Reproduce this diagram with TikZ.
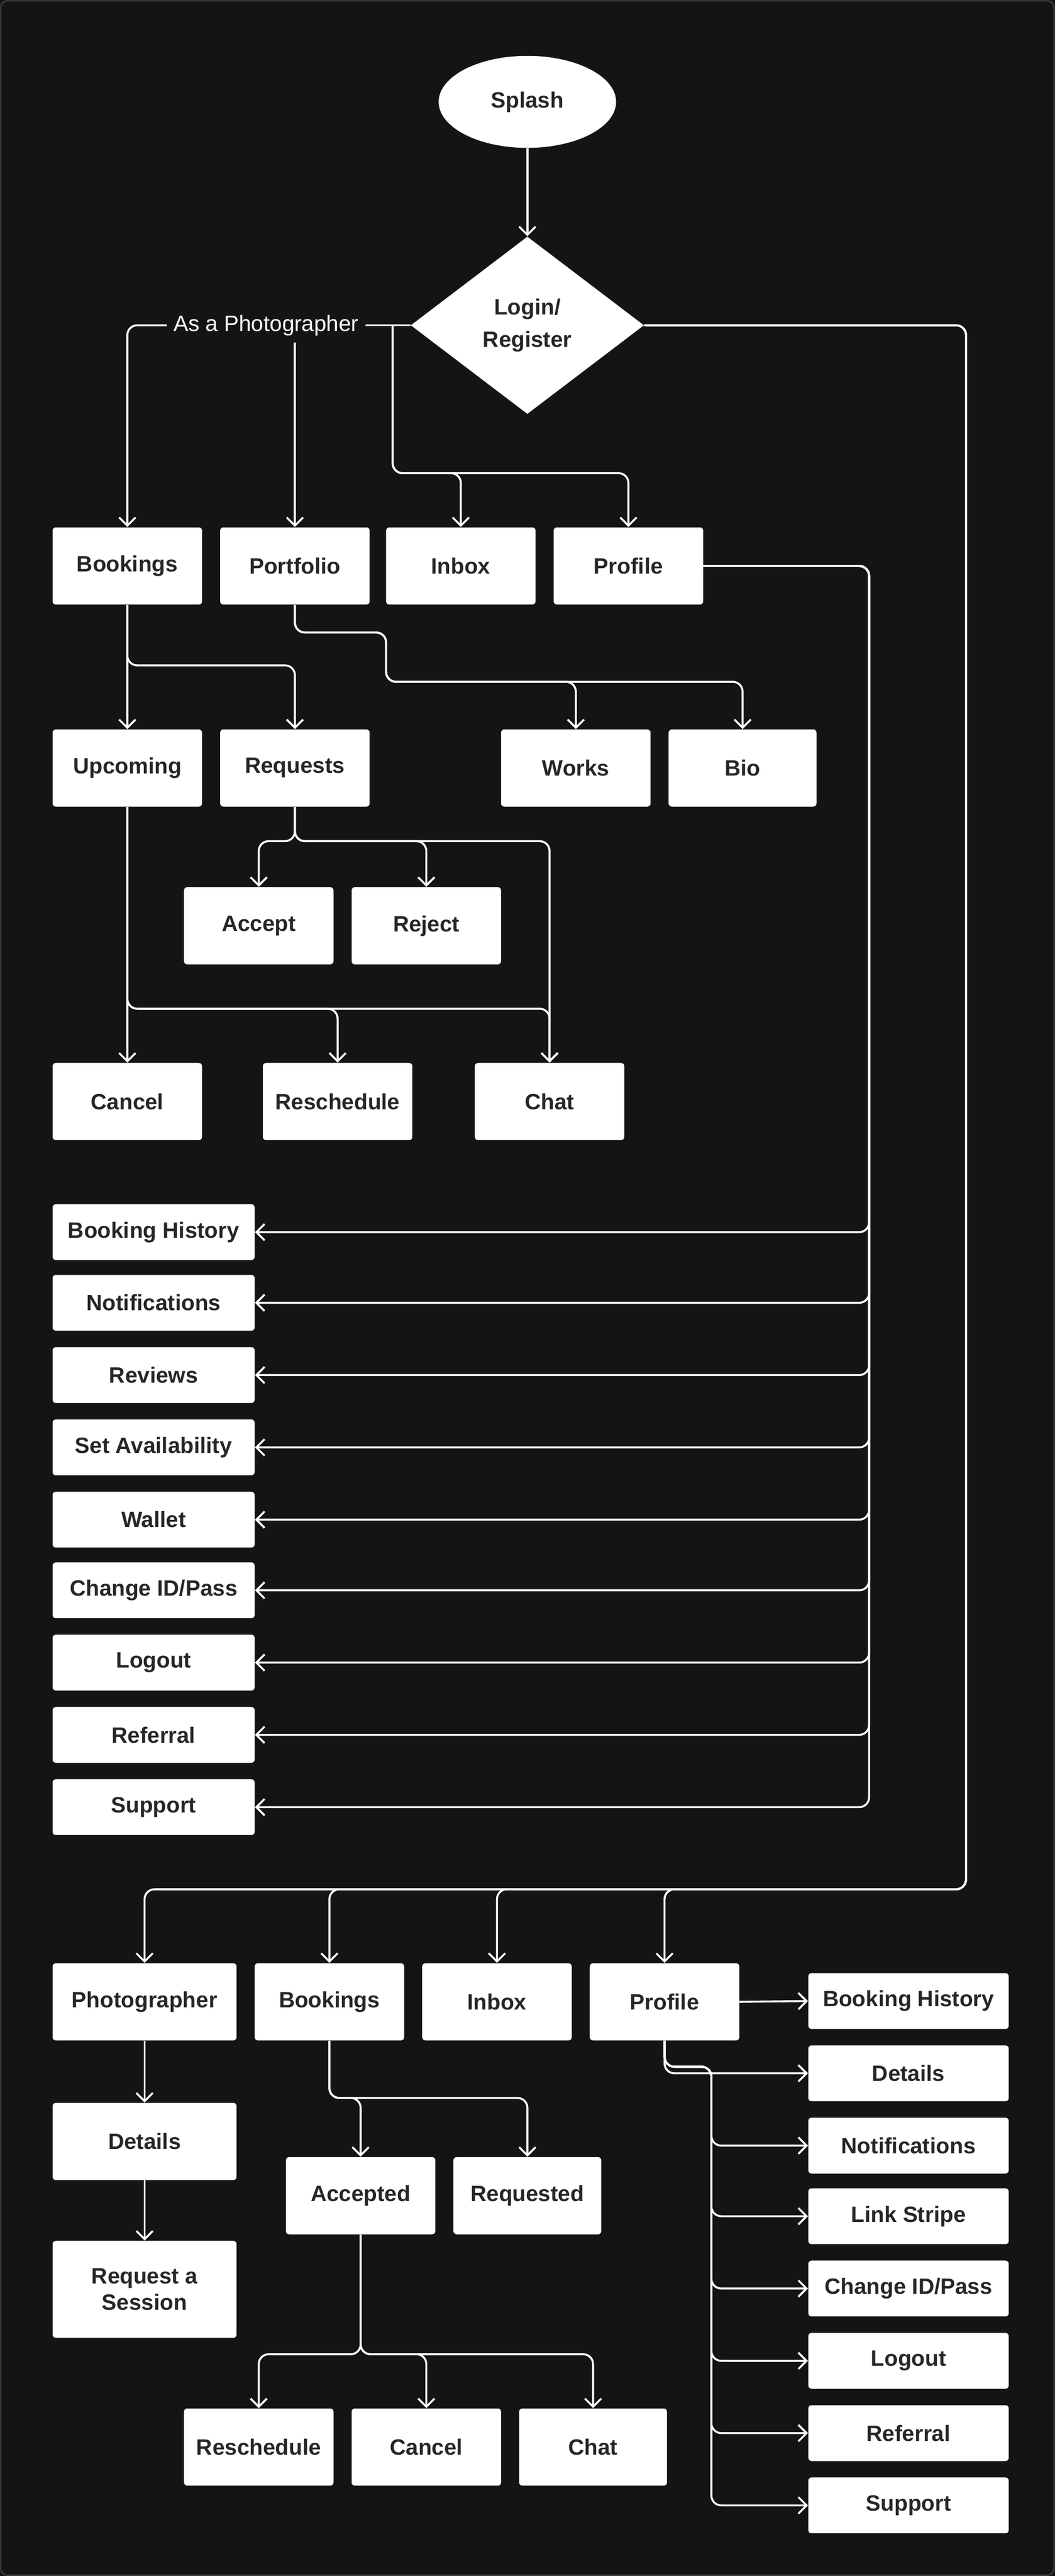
\documentclass[tikz,border=0pt]{standalone}
\usepackage{fontspec}
\setmainfont{Liberation Sans}
\usetikzlibrary{shapes.geometric,arrows.meta}
\definecolor{bgc}{HTML}{141414}
\definecolor{txc}{HTML}{262626}
\tikzset{
 box/.style={fill=white,rounded corners=2pt,inner sep=0pt,text=txc,font=\fontsize{13.5}{16}\selectfont\bfseries,align=center},
 arr/.style={draw=white,line width=1.2pt,rounded corners=6pt,-{Straight Barb[length=5pt,width=10pt,line width=1.2pt]}},
 ln/.style={draw=white,line width=1.2pt,rounded corners=6pt}
}
\newcommand{\bx}[6]{\node[box,minimum width={(#4-#2)*1pt},minimum height={(#5-#3)*1pt}] (#1) at ({(#2+#4)/2},{(#3+#5)/2}) {#6};}
\begin{document}
\begin{tikzpicture}[x=1pt,y=-1pt]
\useasboundingbox (0,0) rectangle (642,1568);
\fill[bgc] (0,0) rectangle (642,1568);
\draw[gray!40!bgc,line width=0.8pt,rounded corners=4pt] (0.5,0.5) rectangle (641.5,1567.5);
% top
\node[ellipse,fill=white,minimum width=108pt,minimum height=56pt,inner sep=0pt,text=txc,font=\fontsize{13.5}{16}\selectfont\bfseries] (spl) at (321,62) {Splash};
\node[diamond,fill=white,minimum width=142pt,minimum height=108pt,aspect=1.31,inner sep=0pt,text=txc,font=\fontsize{13.5}{20}\selectfont\bfseries,align=center] (dia) at (321,198) {Login/\\Register};
\draw[arr] (spl.south) -- (dia.north);
\node[text=white,font=\fontsize{13.5}{16}\selectfont,inner sep=4pt] (lbl) at (162,198) {As a Photographer};
% row 1
\bx{bk}{32}{321}{123}{368}{Bookings}
\bx{pf}{134}{321}{225}{368}{Portfolio}
\bx{ib}{235}{321}{326}{368}{Inbox}
\bx{pr}{337}{321}{428}{368}{Profile}
\coordinate (sp) at (239,198);
\draw[ln] (dia.west) -- (lbl.east);
\draw[arr] (lbl.west) -| (bk.north);
\draw[arr] (pf.north |- lbl.south) -- (pf.north);
\draw[arr] (sp) -- (239,288) -| (ib.north);
\draw[arr] (sp) -- (239,288) -| (pr.north);
% row 2
\bx{up}{32}{444}{123}{491}{Upcoming}
\bx{rq}{134}{444}{225}{491}{Requests}
\bx{wk}{305}{444}{396}{491}{Works}
\bx{bio}{407}{444}{497}{491}{Bio}
\draw[arr] (bk.south) -- (up.north);
\draw[arr] (bk.south) -- (77.5,405) -| (rq.north);
\draw[arr] (pf.south) -- (179.5,385) -- (235,385) -- (235,415) -| (wk.north);
\draw[arr] (pf.south) -- (179.5,385) -- (235,385) -- (235,415) -| (bio.north);
% row 3
\bx{ac}{112}{540}{203}{587}{Accept}
\bx{rj}{214}{540}{305}{587}{Reject}
\bx{cn}{32}{647}{123}{694}{Cancel}
\bx{rs}{160}{647}{251}{694}{Reschedule}
\bx{ch}{289}{647}{380}{694}{Chat}
\draw[arr] (rq.south) -- (179.5,512) -| (ac.north);
\draw[arr] (rq.south) -- (179.5,512) -| (rj.north);
\draw[arr] (rq.south) -- (179.5,512) -| (ch.north);
\draw[arr] (up.south) -- (cn.north);
\draw[arr] (up.south) -- (77.5,614) -| (rs.north);
\draw[arr] (up.south) -- (77.5,614) -| (ch.north);
% profile list
\bx{l1}{32}{733}{155}{767}{Booking History}
\bx{l2}{32}{776}{155}{810}{Notifications}
\bx{l3}{32}{820}{155}{854}{Reviews}
\bx{l4}{32}{864}{155}{898}{Set Availability}
\bx{l5}{32}{908}{155}{942}{Wallet}
\bx{l6}{32}{951}{155}{985}{Change ID/Pass}
\bx{l7}{32}{995}{155}{1029}{Logout}
\bx{l8}{32}{1039}{155}{1073}{Referral}
\bx{l9}{32}{1083}{155}{1117}{Support}
\foreach \n in {l1,l2,l3,l4,l5,l6,l7,l8,l9}{
 \draw[arr] (pr.east) -- (529,344.5) |- (\n.east);
}
% client side
\bx{ph}{32}{1195}{144}{1242}{Photographer}
\bx{bk2}{155}{1195}{246}{1242}{Bookings}
\bx{ib2}{257}{1195}{348}{1242}{Inbox}
\bx{pr2}{359}{1195}{450}{1242}{Profile}
\foreach \n in {ph,bk2,ib2,pr2}{
 \draw[arr] (dia.east) -- (588,198) -- (588,1150) -| (\n.north);
}
\bx{dt}{32}{1280}{144}{1327}{Details}
\bx{ras}{32}{1364}{144}{1423}{Request a\\Session}
\draw[arr] (ph.south) -- (dt.north);
\draw[arr] (dt.south) -- (ras.north);
\bx{acd}{174}{1313}{265}{1360}{Accepted}
\bx{rqd}{276}{1313}{366}{1360}{Requested}
\draw[arr] (bk2.south) -- (200.5,1277) -| (acd.north);
\draw[arr] (bk2.south) -- (200.5,1277) -| (rqd.north);
\bx{rs2}{112}{1466}{203}{1513}{Reschedule}
\bx{cn2}{214}{1466}{305}{1513}{Cancel}
\bx{ch2}{316}{1466}{406}{1513}{Chat}
\foreach \n in {rs2,cn2,ch2}{
 \draw[arr] (acd.south) -- (219.5,1433) -| (\n.north);
}
\bx{m1}{492}{1201}{614}{1235}{Booking History}
\bx{m2}{492}{1245}{614}{1279}{Details}
\bx{m3}{492}{1289}{614}{1323}{Notifications}
\bx{m4}{492}{1332}{614}{1366}{Link Stripe}
\bx{m5}{492}{1376}{614}{1410}{Change ID/Pass}
\bx{m6}{492}{1420}{614}{1454}{Logout}
\bx{m7}{492}{1464}{614}{1498}{Referral}
\bx{m8}{492}{1508}{614}{1542}{Support}
\draw[arr] (pr2.east) -- (m1.west);
\draw[arr] (pr2.south) -- (404.5,1262) -- (m2.west);
\foreach \n in {m3,m4,m5,m6,m7,m8}{
 \draw[arr] (pr2.south) -- (404.5,1258) -- (433,1258) |- (\n.west);
}
\end{tikzpicture}
\end{document}
